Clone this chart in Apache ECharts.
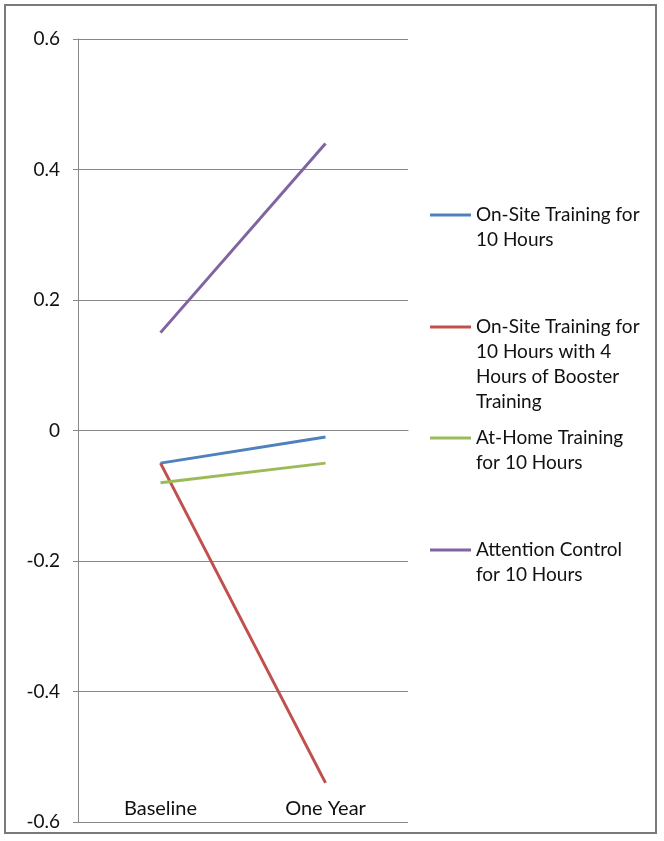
<!DOCTYPE html>
<html>
<head>
<meta charset="utf-8">
<script src="https://cdn.jsdelivr.net/npm/echarts@6/dist/echarts.min.js"></script>
<style>html,body{margin:0;padding:0;background:#fff}#c{width:664px;height:841px}</style>
</head>
<body>
<div id="c"></div>
<script>
var categories = ['Baseline', 'One Year'];
var seriesNames = [
  'On-Site Training for\n10 Hours',
  'On-Site Training for\n10 Hours with 4\nHours of Booster\nTraining',
  'At-Home Training\nfor 10 Hours',
  'Attention Control\nfor 10 Hours'
];
var onSite10 = [-0.05, -0.01];
var onSiteBooster = [-0.05, -0.54];
var atHome10 = [-0.08, -0.05];
var attentionControl = [0.15, 0.44];
var colors = ['#4F81BD', '#C0504D', '#9BBB59', '#8064A2'];
var yTicks = [-0.6, -0.4, -0.2, 0, 0.2, 0.4, 0.6];

var FONT = 'Lato';
var FS = 19;
var LH = 25;
var legendFirstLine = [215, 327, 438, 550];

var seriesData = [onSite10, onSiteBooster, atHome10, attentionControl];

var legends = seriesNames.map(function (name, i) {
  var n = name.split('\n').length;
  var pad = '';
  for (var k = 0; k < n - 1; k++) pad += '\n';
  return {
    data: [name],
    orient: 'vertical',
    left: 430,
    top: legendFirstLine[i] - (2 * n - 1) * LH / 2,
    padding: 0,
    icon: 'rect',
    itemWidth: 41,
    itemHeight: 3,
    selectedMode: false,
    formatter: function (nm) { return pad + nm; },
    textStyle: { fontFamily: FONT, fontSize: FS, lineHeight: LH, color: '#111' }
  };
});

var chart = echarts.init(document.getElementById('c'), null, { renderer: 'canvas' });
chart.setOption({
  animation: false,
  backgroundColor: '#fff',
  color: colors,
  graphic: [{
    type: 'rect',
    shape: { x: 5, y: 5, width: 651, height: 828 },
    style: { fill: 'none', stroke: '#7a7a7a', lineWidth: 2 },
    silent: true
  }],
  grid: { left: 78, top: 39, width: 330, height: 783 },
  legend: legends,
  xAxis: {
    type: 'category',
    data: categories,
    boundaryGap: true,
    axisLine: { show: true, lineStyle: { color: '#878787', width: 1 } },
    axisTick: { show: false },
    axisLabel: { inside: true, margin: 3, fontFamily: FONT, fontSize: 20, color: '#111' },
    splitLine: { show: false }
  },
  yAxis: {
    type: 'value',
    min: -0.6,
    max: 0.6,
    interval: 0.2,
    axisLine: { show: true, lineStyle: { color: '#878787', width: 1 } },
    axisTick: { show: true, length: 5, lineStyle: { color: '#878787' } },
    axisLabel: {
      margin: 18, fontFamily: FONT, fontSize: FS, color: '#111',
      formatter: function (v) {
        var r = Math.round(v * 10) / 10;
        var t = yTicks.filter(function (x) { return Math.abs(x - r) < 1e-9; });
        return t.length ? String(t[0]) : '';
      }
    },
    splitLine: { show: true, lineStyle: { color: '#878787', width: 1 } }
  },
  series: seriesData.map(function (d, i) {
    return {
      name: seriesNames[i],
      type: 'line',
      data: d,
      symbol: 'none',
      lineStyle: { width: 3, color: colors[i] },
      itemStyle: { color: colors[i] }
    };
  })
});
</script>
</body>
</html>
